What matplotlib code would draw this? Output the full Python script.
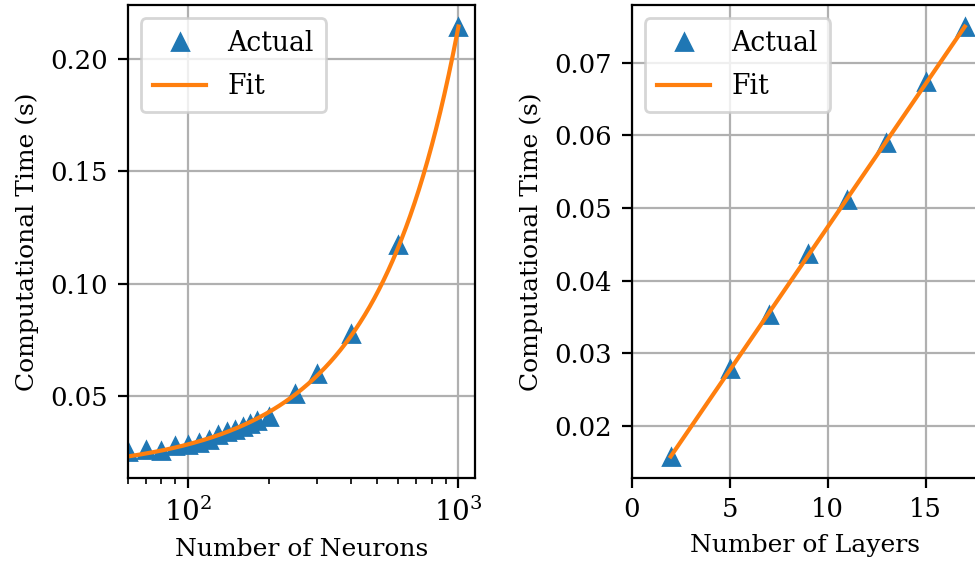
import numpy as np
import matplotlib
matplotlib.use("Agg")
import matplotlib.pyplot as plt
from matplotlib.ticker import MultipleLocator

# ---- data ----
neurons = [60, 70, 80, 90, 100, 110, 120, 130, 140, 150, 160, 170, 180, 200,
           250, 300, 400, 600, 1000]
neuron_time = [0.0250, 0.0258, 0.0254, 0.0277, 0.0283, 0.0292, 0.0305, 0.0326,
               0.0340, 0.0350, 0.0360, 0.0376, 0.0388, 0.0405,
               0.0510, 0.0596, 0.0774, 0.1172, 0.2141]

layers = [2, 5, 7, 9, 11, 13, 15, 17]
layer_time = [0.0158, 0.0278, 0.0353, 0.0437, 0.0511, 0.0590, 0.0673, 0.0750]

xlabels = ["Number of Neurons", "Number of Layers"]
ylabel = "Computational Time (s)"
legend_labels = ["Actual", "Fit"]

plt.rcParams["font.family"] = ["DejaVu Serif"]
plt.rcParams["font.size"] = 9.3
plt.rcParams["axes.labelsize"] = 9.0

W, H = 975, 569
fig = plt.figure(figsize=(W / 200, H / 200), dpi=200)

ax1 = fig.add_axes([127.5 / W, 1 - 478 / H, (475 - 127.5) / W, (478 - 5) / H])
ax2 = fig.add_axes([631.5 / W, 1 - 478 / H, (979.5 - 631.5) / W, (478 - 5) / H])

leg_kw = dict(loc="upper left", fontsize=9.6, borderpad=0.45, labelspacing=0.6)

# ---- left: neurons (log x) ----
c1 = np.polyfit(neurons, neuron_time, 2)
nfit = np.linspace(min(neurons), max(neurons), 400)
ax1.plot(neurons, neuron_time, "^", color="#1f77b4", label=legend_labels[0])
ax1.plot(nfit, np.polyval(c1, nfit), "-", color="#ff7f0e", label=legend_labels[1])
ax1.set_xscale("log")
ax1.set_xlim(min(neurons), ax1.get_xlim()[1])
ax1.yaxis.set_major_locator(MultipleLocator(0.05))
ax1.tick_params(axis="x", labelsize=10)
ax1.grid(True)
ax1.set_xlabel(xlabels[0])
ax1.set_ylabel(ylabel)
ax1.legend(**leg_kw)

# ---- right: layers ----
c2 = np.polyfit(layers, layer_time, 1)
lfit = np.linspace(min(layers), max(layers), 100)
ax2.plot(layers, layer_time, "^", color="#1f77b4", label=legend_labels[0])
ax2.plot(lfit, np.polyval(c2, lfit), "-", color="#ff7f0e", label=legend_labels[1])
ax2.set_xlim(0, ax2.get_xlim()[1])
ax2.grid(True)
ax2.set_xlabel(xlabels[1])
ax2.set_ylabel(ylabel)
ax2.legend(**leg_kw)

fig.savefig("out.png", dpi=200)
